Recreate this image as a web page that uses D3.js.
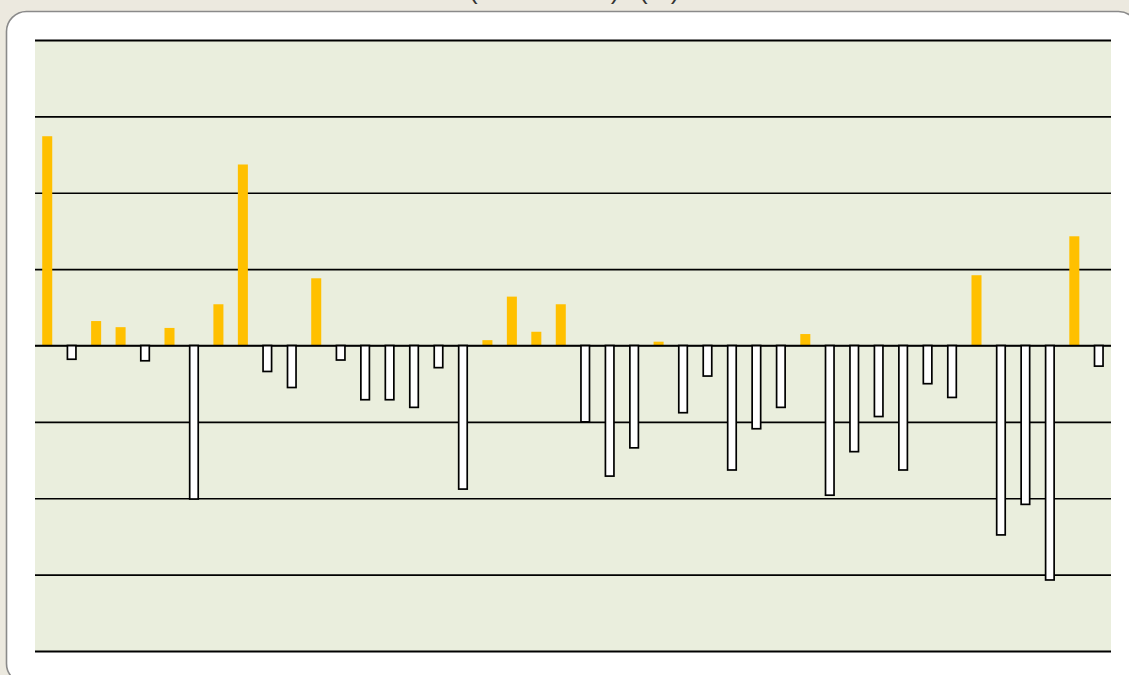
<!DOCTYPE html>
<html>
<head>
<meta charset="utf-8">
<script src="https://cdn.jsdelivr.net/npm/d3@7/dist/d3.min.js"></script>
<style>
  html, body { margin: 0; padding: 0; background: #ECE9DF; overflow: hidden; }
  svg { display: block; }
</style>
</head>
<body>
<script>
// Periods along the x axis (one bar each)
const categories = d3.range(1, 45).map(String);

// Change per period; positive values are filled, negative ones are outlined
const values = [
  2.74, -0.18, 0.32, 0.24, -0.20, 0.23, -2.01, 0.54, 2.37, -0.34,
  -0.55, 0.88, -0.19, -0.71, -0.71, -0.81, -0.29, -1.88, 0.07, 0.64,
  0.18, 0.54, -1.00, -1.71, -1.34, 0.05, -0.88, -0.40, -1.63, -1.09,
  -0.81, 0.15, -1.96, -1.39, -0.93, -1.63, -0.50, -0.68, 0.92, -2.48,
  -2.08, -3.07, 1.43, -0.27
];

// Gridline positions on the value axis
const tickValues = [-4, -3, -2, -1, 0, 1, 2, 3, 4];

const titleMain = "(Annual rate)";
const titleUnit = "(%)";

const W = 1129, H = 675;
const plot = { left: 35, right: 1111, top: 40, bottom: 651 };

const svg = d3.select("body").append("svg")
  .attr("width", W).attr("height", H);

// Title, sitting above the rounded panel (mostly beyond the top edge)
const title = svg.append("text")
  .attr("x", 469).attr("y", -1.5)
  .attr("font-family", "Liberation Sans, Arial, sans-serif")
  .attr("font-size", 26)
  .attr("fill", "#333");
title.append("tspan").text(titleMain);
title.append("tspan").attr("x", 639).text(titleUnit);

// Rounded white panel
svg.append("rect")
  .attr("x", 6.5).attr("y", 11.5)
  .attr("width", 1132).attr("height", 672)
  .attr("rx", 20).attr("ry", 20)
  .attr("fill", "#ffffff")
  .attr("stroke", "#8a8a8a")
  .attr("stroke-width", 1.6);

// Plot background
svg.append("rect")
  .attr("x", plot.left).attr("y", plot.top)
  .attr("width", plot.right - plot.left).attr("height", plot.bottom - plot.top)
  .attr("fill", "#EAEEDD");

const x = d3.scaleBand()
  .domain(categories)
  .range([plot.left, plot.right])
  .paddingInner(0.59)
  .paddingOuter(0.295);

const y = d3.scaleLinear()
  .domain([-4, 4])
  .range([plot.bottom, plot.top]);

// Horizontal gridlines via a left axis with full-width ticks
const yAxis = d3.axisLeft(y)
  .tickValues(tickValues)
  .tickSize(-(plot.right - plot.left))
  .tickFormat("");

const gy = svg.append("g")
  .attr("transform", `translate(${plot.left},0)`)
  .call(yAxis);
gy.select(".domain").remove();
gy.selectAll(".tick line")
  .attr("stroke", "#000")
  .attr("stroke-width", d => (d === 4 || d === -4) ? 2.2 : 1.6);

const data = categories.map((c, i) => ({ c, v: values[i] }));

// Negative bars: white with a black outline
svg.append("g")
  .selectAll("rect")
  .data(data.filter(d => d.v < 0))
  .join("rect")
  .attr("x", d => x(d.c) + 0.75)
  .attr("y", y(0))
  .attr("width", x.bandwidth() - 1.5)
  .attr("height", d => y(d.v) - y(0))
  .attr("fill", "#ffffff")
  .attr("stroke", "#000")
  .attr("stroke-width", 1.7);

// Positive bars: solid amber
svg.append("g")
  .selectAll("rect")
  .data(data.filter(d => d.v >= 0))
  .join("rect")
  .attr("x", d => x(d.c))
  .attr("y", d => y(d.v))
  .attr("width", x.bandwidth())
  .attr("height", d => y(0) - y(d.v))
  .attr("fill", "#FFC000");

// Zero line drawn on top so bar bases stay crisp
svg.append("line")
  .attr("x1", plot.left).attr("x2", plot.right)
  .attr("y1", y(0)).attr("y2", y(0))
  .attr("stroke", "#000").attr("stroke-width", 1.6);
</script>
</body>
</html>
